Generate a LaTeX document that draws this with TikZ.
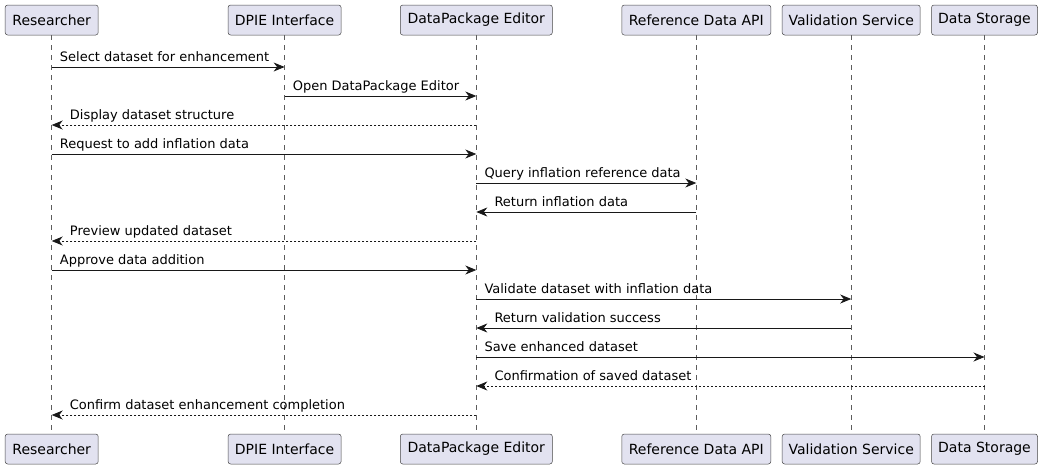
\documentclass[tikz,border=0pt]{standalone}
\usepackage{fontspec}
\setmainfont{DejaVu Sans}
\usetikzlibrary{arrows.meta,positioning}

\definecolor{partfill}{HTML}{E2E2F0}
\definecolor{partline}{HTML}{181818}

\tikzset{
    part/.style={draw=partline!80, fill=partfill, rounded corners=2.5pt, line width=0.5pt,
        minimum height=30pt, inner sep=0pt, font=\fontsize{14}{16}\selectfont},
    lifeline/.style={draw=partline!70, line width=0.5pt, dash pattern=on 5pt off 5pt},
    msg/.style={draw=partline, line width=0.8pt, -{Stealth[length=11pt,width=9pt,inset=3.5pt]}},
    reply/.style={msg, dash pattern=on 2pt off 2pt},
    lbl/.style={font=\fontsize{13}{15}\selectfont, inner sep=0pt, anchor=base west}
}

\begin{document}
\begin{tikzpicture}[x=1pt, y=-1pt]
    \useasboundingbox (0,0) rectangle (1044,469);
    % participants, top and bottom
    \foreach \name/\cx/\w/\txt in {res/51.7/93/Researcher, dpie/284.6/113/DPIE Interface,
            dpe/476.3/152/DataPackage Editor, api/696.3/149/Reference Data API,
            val/851.2/138/Validation Service, sto/984.5/106/Data Storage} {
        \draw[lifeline] (\cx,35) -- (\cx,434);
        \node[part, minimum width=\w pt] (\name) at (\cx,20) {\txt};
        \node[part, minimum width=\w pt] (\name-b) at (\cx,449) {\txt};
    }
    % message rows
    \foreach \i/\y in {1/67,2/96,3/125,4/154,5/183,6/212,7/241,8/270,9/299,10/328,11/357,12/386,13/415}
        \coordinate (r\i) at (0,\y);

    \draw[msg] (res |- r1) -- (dpie |- r1);
    \node[lbl] at ([xshift=8pt, yshift=6pt]res |- r1) {Select dataset for enhancement};
    \draw[msg] (dpie |- r2) -- (dpe |- r2);
    \node[lbl] at ([xshift=8pt, yshift=6pt]dpie |- r2) {Open DataPackage Editor};
    \draw[reply] (dpe |- r3) -- (res |- r3);
    \node[lbl] at ([xshift=18pt, yshift=6pt]res |- r3) {Display dataset structure};
    \draw[msg] (res |- r4) -- (dpe |- r4);
    \node[lbl] at ([xshift=8pt, yshift=6pt]res |- r4) {Request to add inflation data};
    \draw[msg] (dpe |- r5) -- (api |- r5);
    \node[lbl] at ([xshift=8pt, yshift=6pt]dpe |- r5) {Query inflation reference data};
    \draw[msg] (api |- r6) -- (dpe |- r6);
    \node[lbl] at ([xshift=18pt, yshift=6pt]dpe |- r6) {Return inflation data};
    \draw[reply] (dpe |- r7) -- (res |- r7);
    \node[lbl] at ([xshift=18pt, yshift=6pt]res |- r7) {Preview updated dataset};
    \draw[msg] (res |- r8) -- (dpe |- r8);
    \node[lbl] at ([xshift=8pt, yshift=6pt]res |- r8) {Approve data addition};
    \draw[msg] (dpe |- r9) -- (val |- r9);
    \node[lbl] at ([xshift=8pt, yshift=6pt]dpe |- r9) {Validate dataset with inflation data};
    \draw[msg] (val |- r10) -- (dpe |- r10);
    \node[lbl] at ([xshift=18pt, yshift=6pt]dpe |- r10) {Return validation success};
    \draw[msg] (dpe |- r11) -- (sto |- r11);
    \node[lbl] at ([xshift=8pt, yshift=6pt]dpe |- r11) {Save enhanced dataset};
    \draw[reply] (sto |- r12) -- (dpe |- r12);
    \node[lbl] at ([xshift=18pt, yshift=6pt]dpe |- r12) {Confirmation of saved dataset};
    \draw[reply] (dpe |- r13) -- (res |- r13);
    \node[lbl] at ([xshift=18pt, yshift=6pt]res |- r13) {Confirm dataset enhancement completion};
\end{tikzpicture}
\end{document}
